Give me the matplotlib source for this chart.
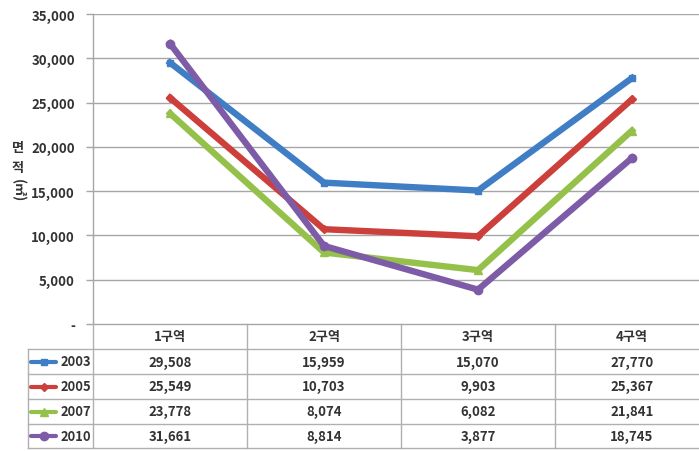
import matplotlib
matplotlib.use("Agg")
import matplotlib.pyplot as plt
from matplotlib.lines import Line2D
from matplotlib.transforms import blended_transform_factory

plt.rcParams['font.family'] = ['Noto Sans CJK KR', 'DejaVu Sans']

CATEGORIES = ['1구역', '2구역', '3구역', '4구역']
YEARS = ['2003', '2005', '2007', '2010']
VALUES_2003 = [29508, 15959, 15070, 27770]
VALUES_2005 = [25549, 10703, 9903, 25367]
VALUES_2007 = [23778, 8074, 6082, 21841]
VALUES_2010 = [31661, 8814, 3877, 18745]
Y_TICKS = [0, 5000, 10000, 15000, 20000, 25000, 30000, 35000]

SERIES = [VALUES_2003, VALUES_2005, VALUES_2007, VALUES_2010]
COLORS = ['#3F7DC4', '#CC3F3A', '#95C14A', '#7D5BA6']
MARKERS = ['s', 'D', '^', 'o']
MSIZES = [5, 4.5, 6, 6]

W, H = 699, 452
fig = plt.figure(figsize=(W / 100, H / 100), dpi=100)

def fx(px):
    return px / W

def fy(py):
    return 1 - py / H

# plot area (right edge runs slightly past the picture, as in the source)
left, right, top, bottom = 93, 709, 15, 325
ax = fig.add_axes([fx(left), fy(bottom), fx(right - left), (bottom - top) / H])
ax.set_xlim(0, len(CATEGORIES))
ax.set_ylim(0, 35000)

grid_c = '#A6A6A6'
for t in Y_TICKS[1:]:
    ax.axhline(t, color=grid_c, lw=1.0, zorder=1)

xs = [i + 0.5 for i in range(len(CATEGORIES))]
for vals, c, m, ms in zip(SERIES, COLORS, MARKERS, MSIZES):
    ax.plot(xs, vals, color=c, lw=4.6, marker=m, markersize=ms,
            markerfacecolor=c, markeredgecolor=c, solid_joinstyle='miter',
            zorder=3, clip_on=False)

ax.set_xticks([])
ax.set_yticks(Y_TICKS)
ax.set_yticklabels(['-' if t == 0 else f'{t:,}' for t in Y_TICKS],
                   fontsize=9.5, fontweight='bold', color='#333333')
ax.tick_params(axis='y', length=5, width=1, color=grid_c, pad=8)
for s in ['top', 'right', 'bottom']:
    ax.spines[s].set_visible(False)
ax.spines['left'].set_color(grid_c)
ax.spines['left'].set_linewidth(1)

# y axis title, stacked East Asian style
ylab_kw = dict(fontsize=9.5, fontweight='bold', color='#333333', ha='center', va='center')
fig.text(fx(18), fy(148), '면', **ylab_kw)
fig.text(fx(18), fy(168), '적', **ylab_kw)
fig.text(fx(18), fy(191), '(㎡)', rotation=270, **ylab_kw)

# data table under the plot
tr = blended_transform_factory(ax.transData, fig.transFigure)
tbl_c = '#B0B0B0'
row_edges = [325, 350, 375, 400, 425, 449]
txt_kw = dict(fontsize=9.5, fontweight='bold', color='#333333', ha='center', va='center')

# horizontal lines
fig.add_artist(Line2D([fx(left), 1], [fy(325)] * 2, color=grid_c, lw=1))
for r in row_edges[1:]:
    fig.add_artist(Line2D([fx(28), 1], [fy(r)] * 2, color=tbl_c, lw=1))
# vertical lines
for i in range(1, len(CATEGORIES)):
    ax.add_line(Line2D([i, i], [fy(325), fy(449)], transform=tr, color=tbl_c,
                       lw=1, clip_on=False))
fig.add_artist(Line2D([fx(left)] * 2, [fy(325), fy(449)], color=tbl_c, lw=1))
fig.add_artist(Line2D([fx(28)] * 2, [fy(350), fy(449)], color=tbl_c, lw=1))

for x, cat in zip(xs, CATEGORIES):
    ax.text(x, fy(337), cat, transform=tr, clip_on=False, **txt_kw)

for k, (yr, vals, c, m, ms) in enumerate(zip(YEARS, SERIES, COLORS, MARKERS, MSIZES)):
    yc = (row_edges[k + 1] + row_edges[k + 2]) / 2
    for x, v in zip(xs, vals):
        ax.text(x, fy(yc), f'{v:,}', transform=tr, clip_on=False, **txt_kw)
    fig.add_artist(Line2D([fx(31), fx(56)], [fy(yc)] * 2, color=c, lw=3.0,
                          solid_capstyle='round'))
    fig.add_artist(Line2D([fx(43.5)], [fy(yc)], color=c, marker=m, markersize=ms,
                          markerfacecolor=c, markeredgecolor=c))
    fig.text(fx(91), fy(yc), yr, fontsize=9.3, fontweight='bold', color='#333333',
             ha='right', va='center')

fig.savefig('out.png', dpi=100)
